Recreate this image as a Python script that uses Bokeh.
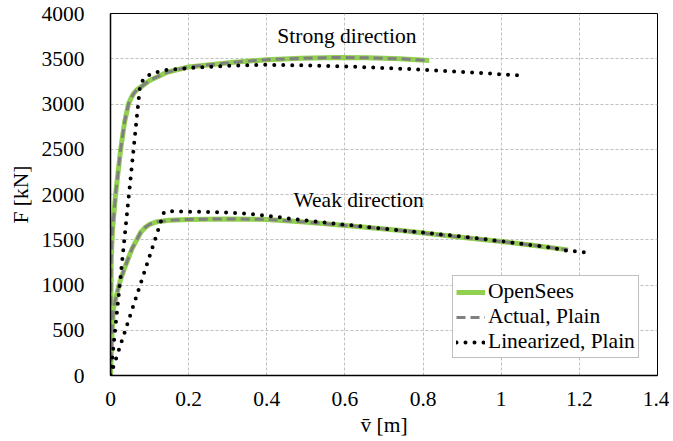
from bokeh.plotting import figure
from bokeh.models import Range1d, FixedTicker, Label, Legend, LegendItem, ColumnDataSource
from bokeh.embed import file_html
from bokeh.resources import INLINE

# ---- data ----
strong_x = [0, 0.002, 0.005, 0.013, 0.026, 0.036, 0.046, 0.053, 0.06, 0.068, 0.077, 0.1, 0.145, 0.2, 0.316, 0.4, 0.487, 0.58, 0.658, 0.74, 0.816]
strong_F = [0, 1300, 1600, 2000, 2500, 2800, 3000, 3070, 3120, 3160, 3186, 3260, 3351, 3410, 3462, 3490, 3505, 3515, 3510, 3500, 3481]

strong_lin_x = [0, 0.076, 0.09, 0.111, 0.145, 0.231, 0.316, 0.402, 0.487, 0.573, 0.658, 0.744, 0.829, 0.92, 1.047]
strong_lin_F = [0, 3220, 3300, 3345, 3377, 3406, 3425, 3433, 3428, 3418, 3406, 3390, 3372, 3350, 3315]

weak_x = [0, 0.004, 0.008, 0.015, 0.025, 0.038, 0.055, 0.077, 0.09, 0.1, 0.12, 0.15, 0.2, 0.3, 0.4, 0.487, 0.573, 0.66, 0.744, 0.83, 0.915, 1.0, 1.08, 1.171]
weak_F = [0, 500, 750, 880, 1050, 1210, 1400, 1580, 1640, 1670, 1700, 1715, 1725, 1730, 1725, 1700, 1668, 1636, 1602, 1560, 1520, 1480, 1440, 1388]

weak_lin_x = [0, 0.137, 0.16, 0.231, 0.3, 0.359, 0.42, 0.487, 0.55, 0.615, 0.68, 0.744, 0.81, 0.872, 0.94, 1.0, 1.06, 1.12, 1.167, 1.214]
weak_lin_F = [0, 1805, 1815, 1808, 1800, 1786, 1755, 1720, 1690, 1660, 1630, 1602, 1575, 1547, 1515, 1484, 1450, 1418, 1381, 1362]

x_ticks = [0, 0.2, 0.4, 0.6, 0.8, 1.0, 1.2, 1.4]
x_tick_labels = ["0", "0.2", "0.4", "0.6", "0.8", "1", "1.2", "1.4"]
y_ticks = [0, 500, 1000, 1500, 2000, 2500, 3000, 3500, 4000]

x_title = "v\u0304 [m]"
y_title = "F [kN]"
series_names = ["OpenSees", "Actual, Plain", "Linearized, Plain"]
annotations = [("Strong direction", 0.605, 3746), ("Weak direction", 0.635, 1934)]

FONT = "Liberation Serif"
FS = "21.5px"
GREEN = "#92D050"
GRAY = "#808080"

p = figure(frame_width=547, frame_height=362, output_backend="svg", toolbar_location=None,
           x_range=Range1d(0, 1.4), y_range=Range1d(0, 4000),
           min_border_left=110, min_border_right=12, min_border_top=13, min_border_bottom=40)
p.background_fill_color = "white"
p.border_fill_color = "white"
p.outline_line_color = "black"
p.outline_line_width = 1

for ax in (p.xaxis[0], p.yaxis[0]):
    ax.major_tick_line_color = None
    ax.minor_tick_line_color = None
    ax.axis_line_color = "black"
    ax.axis_line_width = 1.5
    ax.major_label_text_font = FONT
    ax.major_label_text_font_size = FS
    ax.major_label_text_color = "black"
    ax.axis_label_text_font = FONT
    ax.axis_label_text_font_size = FS
    ax.axis_label_text_font_style = "normal"
    ax.axis_label_text_color = "black"

p.xaxis[0].ticker = FixedTicker(ticks=x_ticks)
p.xaxis[0].major_label_overrides = {t: l for t, l in zip(x_ticks, x_tick_labels)}
p.xaxis[0].major_label_standoff = 10
p.xaxis[0].axis_label = x_title
p.xaxis[0].axis_label_standoff = 4
p.yaxis[0].ticker = FixedTicker(ticks=y_ticks)
p.yaxis[0].major_label_standoff = 20
p.yaxis[0].axis_label = y_title
p.yaxis[0].axis_label_standoff = 6

for g in (p.xgrid[0], p.ygrid[0]):
    g.grid_line_color = "#bfbfbf"
    g.grid_line_dash = "3 2"
    g.grid_line_width = 1

src_s = ColumnDataSource(dict(x=strong_x, y=strong_F))
src_w = ColumnDataSource(dict(x=weak_x, y=weak_F))
src_sl = ColumnDataSource(dict(x=strong_lin_x, y=strong_lin_F))
src_wl = ColumnDataSource(dict(x=weak_lin_x, y=weak_lin_F))

g1 = p.line("x", "y", source=src_s, line_color=GREEN, line_width=5)
p.line("x", "y", source=src_w, line_color=GREEN, line_width=5)
g2 = p.line("x", "y", source=src_s, line_color=GRAY, line_width=3, line_dash="9 5")
p.line("x", "y", source=src_w, line_color=GRAY, line_width=3, line_dash="9 5")
g3 = p.line("x", "y", source=src_sl, line_color="black", line_width=4, line_dash="0 9", line_cap="round")
p.line("x", "y", source=src_wl, line_color="black", line_width=4, line_dash="0 9", line_cap="round")

legend = Legend(items=[LegendItem(label=series_names[0], renderers=[g1]),
                       LegendItem(label=series_names[1], renderers=[g2]),
                       LegendItem(label=series_names[2], renderers=[g3])],
                location=(342, 17), padding=3, spacing=0, margin=0,
                label_standoff=3, glyph_width=29, glyph_height=22, label_height=22,
                label_text_font=FONT, label_text_font_size=FS, label_text_color="black",
                border_line_color=GRAY, border_line_width=1,
                background_fill_color="white", background_fill_alpha=1)
p.add_layout(legend)

for txt, x, y in annotations:
    p.add_layout(Label(x=x, y=y, text=txt, text_align="center", text_baseline="middle",
                       text_font=FONT, text_font_size=FS, text_color="black"))

open("out.html", "w").write(file_html(p, INLINE))
